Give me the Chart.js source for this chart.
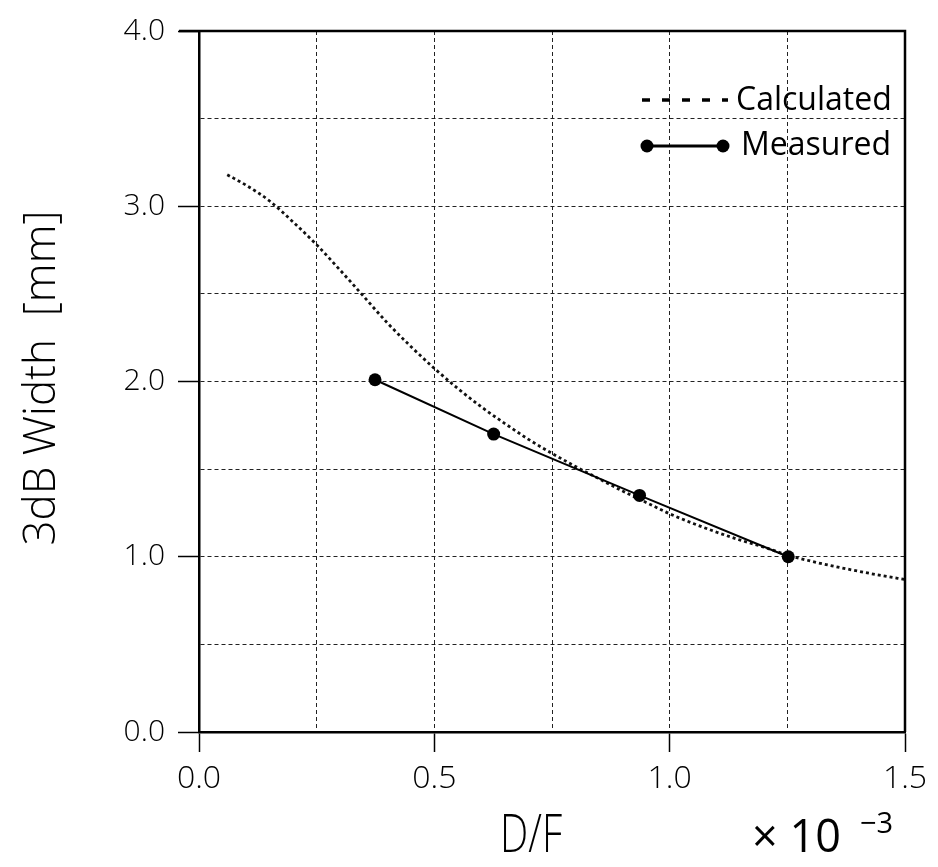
<!DOCTYPE html>
<html><head><meta charset="utf-8">
<script src="https://cdn.jsdelivr.net/npm/chart.js@4"></script>
<style>html,body{margin:0;padding:0;background:#fff}canvas{display:block}</style>
</head><body>
<canvas id="c" width="938" height="867"></canvas>
<script>
// ---- data ----
const calcX = [0.06,0.10,0.15,0.20,0.25,0.30,0.35,0.40,0.45,0.50,0.55,0.60,0.65,0.70,0.75,0.80,0.85,0.90,0.95,1.00,1.05,1.10,1.15,1.20,1.25,1.30,1.35,1.40,1.45,1.50];
const calcY = [3.18,3.12,3.03,2.91,2.78,2.635,2.485,2.335,2.20,2.075,1.96,1.855,1.76,1.67,1.59,1.515,1.445,1.375,1.31,1.245,1.19,1.14,1.095,1.055,1.01,0.975,0.945,0.918,0.893,0.87];
const measX = [0.374,0.626,0.936,1.252];
const measY = [2.01,1.70,1.35,1.00];
const xTickLabels = ['0.0','0.5','1.0','1.5'];
const yTickLabels = ['0.0','1.0','2.0','3.0','4.0'];
const xTitle = 'D/F';
const xMultiplier = '\u00d7 10';
const xExponent = '\u22123';
const yTitle = '3dB Width  [mm]';
const legendLabels = ['Calculated','Measured'];

const FONT = '"Open Sans", "DejaVu Sans", sans-serif';

function isMult(v, step){ const r = v/step; return Math.abs(r-Math.round(r)) < 1e-6; }

const framePlugin = {
  id: 'frame',
  afterDraw(chart){
    const ctx = chart.ctx, a = chart.chartArea;
    ctx.save();
    // solid frame (top / right)
    ctx.strokeStyle = '#000';
    ctx.lineWidth = 2.5;
    ctx.setLineDash([]);
    ctx.beginPath();
    ctx.moveTo(a.left - 20, a.top); ctx.lineTo(a.right, a.top); ctx.lineTo(a.right, a.bottom);
    ctx.stroke();

    // legend
    ctx.fillStyle = '#000';
    ctx.font = '400 32px ' + FONT;
    ctx.textBaseline = 'alphabetic';
    ctx.textAlign = 'left';
    ctx.lineWidth = 3.5;
    ctx.setLineDash([8,12]);
    ctx.beginPath(); ctx.moveTo(642,100); ctx.lineTo(728,100); ctx.stroke();
    ctx.fillText(legendLabels[0], 736, 110);
    ctx.setLineDash([]);
    ctx.lineWidth = 3;
    ctx.beginPath(); ctx.moveTo(647,146); ctx.lineTo(723,146); ctx.stroke();
    [647,723].forEach(x=>{ ctx.beginPath(); ctx.arc(x,146,6.5,0,Math.PI*2); ctx.fill(); });
    ctx.fillText(legendLabels[1], 741, 155);

    // y title
    ctx.save();
    ctx.translate(55, 378);
    ctx.rotate(-Math.PI/2);
    ctx.textAlign = 'center';
    ctx.font = '300 44px ' + FONT;
    ctx.fillText(yTitle, 0, 0);
    ctx.restore();

    // x title (condensed)
    ctx.save();
    ctx.translate(531, 852);
    ctx.scale(0.74, 1);
    ctx.textAlign = 'center';
    ctx.font = '300 54px ' + FONT;
    ctx.fillText(xTitle, 0, 0);
    ctx.restore();

    // multiplier
    ctx.textAlign = 'left';
    ctx.font = '400 45px ' + FONT;
    ctx.fillText(xMultiplier, 752, 852);
    ctx.font = '400 29px ' + FONT;
    ctx.fillText(xExponent, 860, 833);
    ctx.restore();
  }
};

const chart = new Chart(document.getElementById('c'), {
  type: 'scatter',
  data: {
    datasets: [
      {
        label: legendLabels[1],
        data: measX.map((x,i)=>({x, y: measY[i]})),
        showLine: true,
        borderColor: '#000',
        backgroundColor: '#000',
        borderWidth: 2,
        pointRadius: 6.5,
        pointHoverRadius: 6.5,
        pointBackgroundColor: '#000',
        pointBorderWidth: 0,
        order: 0
      },
      {
        label: legendLabels[0],
        data: calcX.map((x,i)=>({x, y: calcY[i]})),
        showLine: true,
        borderColor: '#111',
        borderWidth: 2.8,
        borderDash: [3,3],
        pointRadius: 0,
        cubicInterpolationMode: 'monotone',
        order: 1
      }
    ]
  },
  options: {
    responsive: false,
    animation: false,
    events: [],
    layout: { padding: { left: 0, right: 33, top: 27, bottom: 0 } },
    plugins: { legend: { display: false }, tooltip: { enabled: false } },
    scales: {
      x: {
        type: 'linear', min: 0, max: 1.5,
        afterFit(s){ s.height = 135; },
        ticks: {
          stepSize: 0.25, autoSkip: false, maxRotation: 0, padding: 8,
          color: '#000',
          font: { family: FONT, size: 32, weight: '300' },
          callback(v){ const l = v.toFixed(1); return (isMult(v,0.5) && xTickLabels.includes(l)) ? l : ''; }
        },
        grid: {
          color: '#222', lineWidth: 1, tickLength: 20, tickWidth: 1.5,
          tickColor: (c)=> (c.tick && isMult(c.tick.value,0.5)) ? '#000' : 'rgba(0,0,0,0)'
        },
        border: { display: true, color: '#000', width: 2.5, dash: [4,3] }
      },
      y: {
        type: 'linear', min: 0, max: 4,
        afterFit(s){ s.width = 199; },
        ticks: {
          stepSize: 0.5, autoSkip: false, padding: 13,
          color: '#000',
          font: { family: FONT, size: 30, weight: '300' },
          callback(v){ const l = v.toFixed(1); return (isMult(v,1) && yTickLabels.includes(l)) ? l : ''; }
        },
        grid: {
          color: '#222', lineWidth: 1, tickLength: 21, tickWidth: 1.5,
          tickColor: (c)=> (c.tick && isMult(c.tick.value,1)) ? '#000' : 'rgba(0,0,0,0)'
        },
        border: { display: true, color: '#000', width: 2.5, dash: [4,3] }
      }
    }
  },
  plugins: [framePlugin]
});
</script>
</body></html>
